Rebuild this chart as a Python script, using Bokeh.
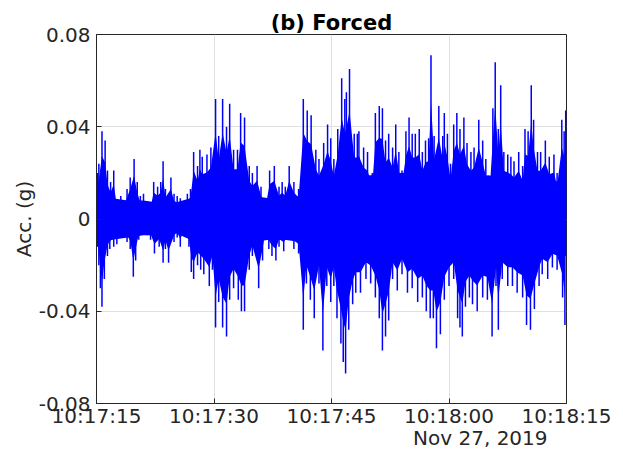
from bokeh.plotting import figure
from bokeh.models import FixedTicker, Range1d, LinearAxis
from bokeh.embed import file_html
from bokeh.resources import INLINE

# time in seconds after 10:17:15 (Nov 27, 2019)
x_tick_vals = [0, 15, 30, 45, 60]
x_tick_labels = ["10:17:15", "10:17:30", "10:17:45", "10:18:00", "10:18:15"]
y_tick_vals = [-0.08, -0.04, 0, 0.04, 0.08]
y_tick_labels = ["-0.08", "-0.04", "0", "0.04", "0.08"]
date_label = "Nov 27, 2019"
date_pos = 49

# dense body of the signal (approximate amplitude band)
core_t = [0, 2, 4, 6, 8, 10, 12, 14, 16, 18, 20, 22, 24, 26, 28, 30, 32, 34, 36, 38,
          40, 42, 44, 46, 48, 50, 52, 54, 56, 58, 60]
core_up = [0.012, 0.009, 0.008, 0.008, 0.007, 0.007, 0.009, 0.014, 0.018, 0.015, 0.010,
           0.009, 0.009, 0.010, 0.018, 0.019, 0.020, 0.019, 0.019, 0.020, 0.020, 0.019,
           0.019, 0.019, 0.018, 0.019, 0.018, 0.017, 0.018, 0.016, 0.017]
core_lo = [-0.012, -0.009, -0.008, -0.007, -0.007, -0.006, -0.009, -0.014, -0.018, -0.015,
           -0.010, -0.009, -0.009, -0.010, -0.018, -0.019, -0.020, -0.018, -0.018, -0.017,
           -0.018, -0.019, -0.019, -0.019, -0.018, -0.019, -0.017, -0.017, -0.017, -0.015,
           -0.016]

# positive peaks
up_t = [0.1, 0.3, 0.7, 1.1, 1.4, 1.8, 2.2, 2.6, 3.1, 3.5, 3.9, 4.3, 4.8, 5.2, 5.6, 6.0,
        6.5, 6.9, 7.3, 7.8, 8.2, 8.5, 8.8, 9.5, 9.9, 10.3, 10.7, 11.2, 11.6, 12.0, 12.4,
        12.9, 13.2, 13.5, 14.1, 14.6, 15.2, 15.6, 16.1, 16.6, 17.0, 17.5, 18.0, 18.4,
        18.9, 19.5, 19.9, 20.5, 21.0, 21.6, 22.1, 22.7, 23.3, 23.7, 24.1, 24.6, 25.2,
        25.8, 26.4, 26.9, 27.4, 28.0, 28.4, 29.0, 29.5, 29.9, 30.3, 30.8, 31.3, 31.7,
        31.9, 32.3, 32.9, 33.3, 33.5, 34.1, 34.6, 35.2, 35.6, 36.1, 36.5, 36.9, 37.3,
        37.8, 38.2, 38.6, 39.0, 39.5, 39.9, 40.3, 40.7, 41.2, 41.6, 42.0, 42.4, 42.7,
        43.1, 43.7, 44.2, 44.4, 44.8, 45.2, 45.6, 46.0, 46.4, 46.9, 47.3, 47.8, 48.2,
        48.8, 49.3, 49.7, 50.2, 50.6, 50.9, 51.3, 51.6, 52.0, 52.5, 52.9, 53.3, 53.9,
        54.4, 54.7, 55.1, 55.5, 55.8, 56.3, 56.7, 57.3, 57.8, 58.4, 58.8, 59.4, 59.7, 59.9]
up_v = [0.020, 0.024, 0.038, 0.034, 0.021, 0.016, 0.021, 0.008, 0.010, 0.008, 0.013,
        0.018, 0.026, 0.016, 0.010, 0.011, 0.006, 0.007, 0.016, 0.014, 0.016, 0.025,
        0.013, 0.018, 0.011, 0.010, 0.009, 0.007, 0.011, 0.013, 0.029, 0.023, 0.030,
        0.027, 0.028, 0.031, 0.052, 0.036, 0.052, 0.040, 0.050, 0.030, 0.030, 0.046,
        0.044, 0.023, 0.020, 0.023, 0.014, 0.008, 0.021, 0.023, 0.014, 0.016, 0.014,
        0.023, 0.016, 0.013, 0.052, 0.047, 0.045, 0.030, 0.026, 0.033, 0.041, 0.035,
        0.026, 0.039, 0.061, 0.052, 0.055, 0.065, 0.037, 0.037, 0.038, 0.031, 0.029,
        0.020, 0.046, 0.049, 0.048, 0.034, 0.037, 0.031, 0.041, 0.029, 0.021, 0.038,
        0.044, 0.037, 0.037, 0.039, 0.029, 0.034, 0.035, 0.071, 0.036, 0.049, 0.036,
        0.046, 0.037, 0.024, 0.041, 0.046, 0.039, 0.044, 0.033, 0.029, 0.031, 0.043,
        0.034, 0.026, 0.018, 0.048, 0.068, 0.039, 0.058, 0.029, 0.028, 0.027, 0.025,
        0.029, 0.023, 0.039, 0.038, 0.058, 0.043, 0.029, 0.029, 0.034, 0.027, 0.028,
        0.020, 0.043, 0.038, 0.047]

# negative peaks
lo_t = [0.1, 0.3, 0.5, 0.7, 1.0, 1.4, 1.7, 2.2, 2.6, 3.1, 3.5, 3.9, 4.3, 4.7, 5.0, 5.4,
        6.0, 6.5, 6.9, 7.4, 8.0, 8.5, 8.8, 9.2, 9.9, 10.3, 10.7, 11.4, 11.8, 12.1, 12.4,
        12.9, 13.3, 13.7, 14.4, 14.8, 15.2, 15.6, 16.1, 16.6, 17.0, 17.5, 18.1, 18.5,
        18.9, 19.5, 19.9, 20.7, 21.2, 21.6, 22.0, 22.4, 22.9, 23.3, 23.9, 24.6, 25.2,
        25.8, 26.4, 26.8, 27.3, 27.8, 28.4, 28.9, 29.4, 29.9, 30.3, 30.7, 31.2, 31.5,
        31.8, 32.2, 32.7, 33.1, 33.7, 34.4, 35.0, 35.6, 36.1, 36.5, 36.9, 37.3, 37.8,
        38.4, 39.0, 39.7, 40.3, 41.0, 41.6, 42.1, 42.6, 43.0, 43.4, 43.9, 44.4, 45.0,
        45.6, 46.1, 46.4, 46.7, 47.1, 47.6, 48.0, 48.6, 49.3, 49.9, 50.5, 51.0, 51.3,
        51.8, 52.5, 53.1, 53.7, 54.4, 54.9, 55.4, 55.9, 56.5, 56.9, 57.6, 58.2, 58.8,
        59.5, 59.8]
lo_v = [-0.012, -0.020, -0.030, -0.038, -0.026, -0.016, -0.013, -0.012, -0.011, -0.007,
        -0.006, -0.010, -0.013, -0.025, -0.018, -0.009, -0.006, -0.007, -0.009, -0.015,
        -0.012, -0.019, -0.013, -0.019, -0.010, -0.008, -0.012, -0.004, -0.012, -0.023,
        -0.026, -0.020, -0.022, -0.024, -0.029, -0.022, -0.047, -0.036, -0.047, -0.051,
        -0.035, -0.030, -0.035, -0.040, -0.040, -0.022, -0.016, -0.030, -0.018, -0.006,
        -0.013, -0.016, -0.018, -0.012, -0.014, -0.009, -0.013, -0.015, -0.048, -0.028,
        -0.035, -0.043, -0.028, -0.057, -0.029, -0.036, -0.029, -0.043, -0.054, -0.062,
        -0.067, -0.048, -0.037, -0.032, -0.032, -0.026, -0.028, -0.034, -0.043, -0.057,
        -0.051, -0.044, -0.026, -0.031, -0.024, -0.032, -0.030, -0.036, -0.034, -0.040,
        -0.043, -0.043, -0.056, -0.050, -0.035, -0.029, -0.026, -0.043, -0.047, -0.051,
        -0.038, -0.034, -0.037, -0.040, -0.034, -0.035, -0.051, -0.029, -0.048, -0.026,
        -0.029, -0.029, -0.032, -0.034, -0.046, -0.048, -0.039, -0.029, -0.024, -0.026,
        -0.021, -0.022, -0.034, -0.046]

FONT = "DejaVu Sans"
AX = "#262626"
BLUE = "#0000ff"
BODY = 0.72  # share of each peak that the dense body reaches (styling)

p = figure(width=623, height=452, output_backend="svg", toolbar_location=None,
           x_range=Range1d(0, 60), y_range=Range1d(-0.08, 0.08),
           min_border_left=96, min_border_right=57, min_border_top=34,
           min_border_bottom=49, background_fill_color="white",
           border_fill_color="white")

p.title.text = "(b) Forced"
p.title.align = "center"
p.title.text_font = FONT
p.title.text_font_size = "21px"
p.title.text_font_style = "bold"
p.title.text_color = "black"
p.title.offset = 0
p.title.standoff = 0

p.varea(x=core_t, y1=core_lo, y2=core_up, fill_color=BLUE, fill_alpha=1.0)
p.varea(x=up_t, y1=[0] * len(up_t), y2=[v * BODY for v in up_v],
        fill_color=BLUE, fill_alpha=1.0)
p.varea(x=lo_t, y1=[v * BODY for v in lo_v], y2=[0] * len(lo_t),
        fill_color=BLUE, fill_alpha=1.0)
p.segment(x0=up_t, y0=[0] * len(up_t), x1=up_t, y1=up_v, line_color=BLUE,
          line_width=1.5)
p.segment(x0=lo_t, y0=[0] * len(lo_t), x1=lo_t, y1=lo_v, line_color=BLUE,
          line_width=1.5)

p.xaxis.ticker = FixedTicker(ticks=x_tick_vals)
p.xaxis.major_label_overrides = dict(zip(x_tick_vals, x_tick_labels))
p.yaxis.ticker = FixedTicker(ticks=y_tick_vals)
p.yaxis.major_label_overrides = dict(zip(y_tick_vals, y_tick_labels))
p.yaxis.axis_label = "Acc. (g)"
p.yaxis.axis_label_text_font = FONT
p.yaxis.axis_label_text_font_size = "20px"
p.yaxis.axis_label_text_font_style = "normal"
p.yaxis.axis_label_text_color = AX
p.yaxis.axis_label_standoff = 0

for ax in (p.xaxis, p.yaxis):
    ax.major_label_text_font = FONT
    ax.major_label_text_font_size = "20px"
    ax.major_label_text_color = AX
    ax.axis_line_color = AX
    ax.major_tick_line_color = AX
    ax.major_tick_in = 5
    ax.major_tick_out = 0
    ax.minor_tick_line_color = None
p.xaxis.major_label_standoff = 0
p.xaxis.axis_label_standoff = 0
p.yaxis.major_label_standoff = 6

date_ax = LinearAxis(ticker=FixedTicker(ticks=[date_pos]),
                     major_label_overrides={date_pos: date_label},
                     axis_line_color=None, major_tick_line_color=None,
                     minor_tick_line_color=None, major_tick_in=0, major_tick_out=0,
                     major_label_standoff=-5, axis_label_standoff=0,
                     major_label_text_font=FONT, major_label_text_font_size="20px",
                     major_label_text_color=AX)
p.add_layout(date_ax, "below")

p.xgrid.ticker = FixedTicker(ticks=x_tick_vals)
p.ygrid.ticker = FixedTicker(ticks=y_tick_vals)
p.grid.grid_line_color = "#e0e0e0"
p.grid.grid_line_width = 1

p.outline_line_color = AX
p.outline_line_width = 1

open("out.html", "w").write(file_html(p, INLINE))
